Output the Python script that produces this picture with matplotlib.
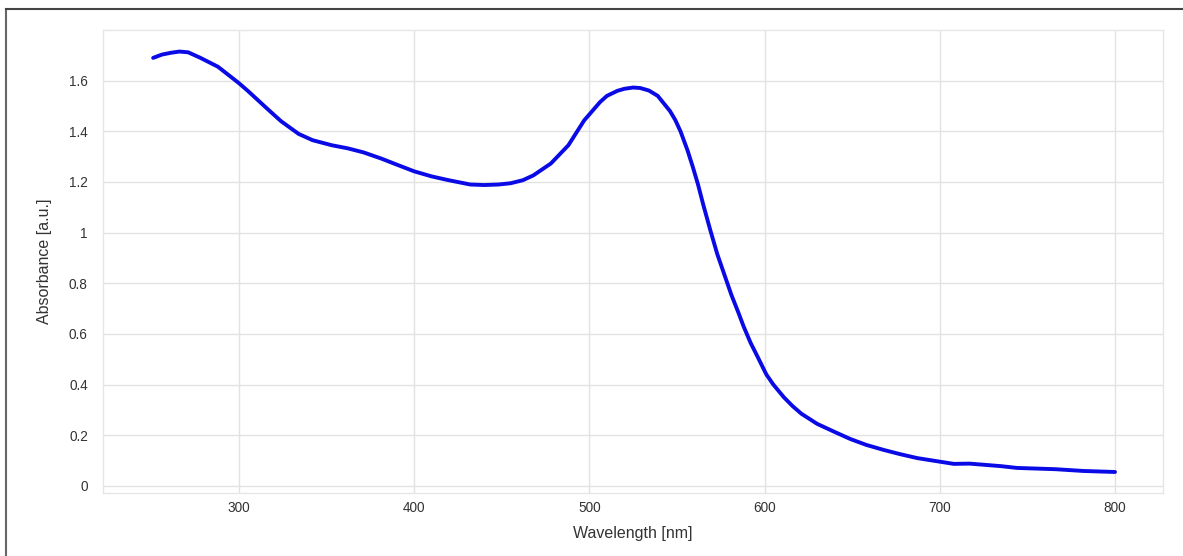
import matplotlib.pyplot as plt
from matplotlib.lines import Line2D

# absorbance spectrum
wavelength = [251, 256, 261, 266, 271, 278, 288, 300, 305, 316, 324, 334, 342,
              353, 362, 371, 381, 391, 400, 410, 419, 432, 440, 448, 455, 462,
              468, 478, 488, 497, 506, 510, 516, 520, 525, 529, 534, 539, 546,
              549, 552, 556, 559, 562, 565, 569, 573, 577, 581, 585, 588, 592,
              596, 601, 605, 611, 616, 621, 630, 640, 649, 658, 668, 677, 687,
              697, 708, 717, 735, 744, 766, 782, 800]
absorbance = [1.69, 1.703, 1.71, 1.715, 1.712, 1.69, 1.655, 1.59, 1.56, 1.49,
              1.44, 1.39, 1.365, 1.345, 1.333, 1.317, 1.293, 1.266, 1.242,
              1.222, 1.208, 1.19, 1.188, 1.19, 1.195, 1.207, 1.226, 1.273, 1.345,
              1.443, 1.515, 1.54, 1.56, 1.568, 1.573, 1.571, 1.561, 1.54, 1.48,
              1.445, 1.40, 1.325, 1.26, 1.19, 1.11, 1.01, 0.915, 0.835, 0.755,
              0.685, 0.63, 0.565, 0.51, 0.44, 0.40, 0.35, 0.315, 0.285, 0.245,
              0.213, 0.185, 0.162, 0.142, 0.126, 0.11, 0.099, 0.087, 0.088,
              0.078, 0.071, 0.066, 0.059, 0.055]

xticks = [300, 400, 500, 600, 700, 800]
yticks = [0, 0.2, 0.4, 0.6, 0.8, 1, 1.2, 1.4, 1.6]
ytick_labels = ['0', '0.2', '0.4', '0.6', '0.8', '1', '1.2', '1.4', '1.6']

plt.rcParams['font.family'] = ['Liberation Sans', 'DejaVu Sans']

fig = plt.figure(figsize=(11.83, 5.56), dpi=100)
ax = fig.add_axes([0.0871, 0.1133, 0.8960, 0.8327])

ax.plot(wavelength, absorbance, color='#0a0ae6', linewidth=2.8,
        solid_capstyle='round', solid_joinstyle='round')

ax.set_xlim(222.4, 827.4)
ax.set_ylim(-0.028, 1.80)
ax.set_xticks(xticks)
ax.set_yticks(yticks)
ax.set_yticklabels(ytick_labels)
ax.tick_params(axis='both', length=0, labelsize=9.8, labelcolor='#333333')
ax.tick_params(axis='y', pad=11)
ax.tick_params(axis='x', pad=6)
ax.grid(True, color='#e2e2e2', linewidth=1.0)
ax.set_axisbelow(True)
for s in ax.spines.values():
    s.set_color('#e6e6e6')
    s.set_linewidth(1.0)

ax.set_xlabel('Wavelength [nm]', fontsize=11.5, color='#333333', labelpad=8)
ax.set_ylabel('Absorbance [a.u.]', fontsize=11.5, color='#333333', labelpad=12)

# frame lines on the left and top of the figure
fig.add_artist(Line2D([6 / 1183, 6 / 1183], [0, 1 - 9 / 556],
                      transform=fig.transFigure, color='#666666', linewidth=1.5))
fig.add_artist(Line2D([6 / 1183, 1], [1 - 9 / 556, 1 - 9 / 556],
                      transform=fig.transFigure, color='#444444', linewidth=1.5))

fig.savefig('out.png', dpi=100)
